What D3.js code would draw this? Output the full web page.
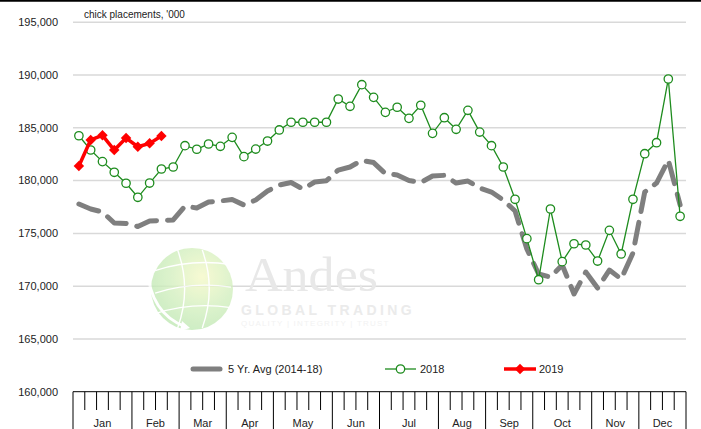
<!DOCTYPE html>
<html>
<head>
<meta charset="utf-8">
<script src="https://cdn.jsdelivr.net/npm/d3@7"></script>
<style>
  html, body { margin: 0; padding: 0; background: #fff; }
  svg { display: block; font-family: "Liberation Sans", Arial, sans-serif; }
</style>
</head>
<body>
<svg id="chart" width="701" height="429"></svg>
<script>
// Weekly chick placements, thousands of birds
const months = ["Jan","Feb","Mar","Apr","May","Jun","Jul","Aug","Sep","Oct","Nov","Dec"];
const weeksPerMonth = [5,4,4,4,5,4,5,4,4,5,4,4];
const yTicks = [160000,165000,170000,175000,180000,185000,190000,195000];

const avg5yr = [
  177780,177310,177030,175980,175940,175650,176170,176220,176270,177590,
  177400,177970,178070,178210,177690,178160,179010,179580,179820,179200,
  179870,179990,181000,181290,181920,181710,180670,180530,180010,179820,
  180440,180500,179770,179960,179300,178920,178160,177120,173520,171150,
  170860,172010,169260,171340,169820,171530,170680,173140,178920,179770,
  181950,177700
];
const y2018 = [
  184250,182900,181800,180790,179750,178420,179770,181100,181290,183310,
  182970,183470,183250,184100,182270,182990,183750,184800,185530,185530,
  185530,185530,187730,187040,189090,187890,186470,186950,185900,187140,
  184480,185960,184860,186660,184600,183310,181290,178230,174500,170610,
  177310,172320,174020,173900,172380,175290,173050,178230,182550,183590,
  189630,176620
];
const y2019 = [181380,183850,184290,182900,184040,183210,183530,184230];

const svg = d3.select("#chart");
const W = 701, H = 429;
const plotL = 73, plotR = 686, plotT = 22.3, plotB = 391.7;

const weeks = d3.range(1, 53);
const x = d3.scaleBand().domain(weeks).range([plotL, plotR]).padding(0);
const cx = w => x(w) + x.bandwidth() / 2;
const y = d3.scaleLinear().domain([160000, 195000]).range([plotB, plotT]);

// frame line along the top edge
svg.append("line").attr("x1", 0).attr("x2", W).attr("y1", 0.75).attr("y2", 0.75)
  .attr("stroke", "#000").attr("stroke-width", 2);

// horizontal gridlines
svg.append("g").selectAll("line").data(yTicks.filter(t => t > 160000)).join("line")
  .attr("x1", plotL).attr("x2", plotR)
  .attr("y1", d => y(d)).attr("y2", d => y(d))
  .attr("stroke", "#d9d9d9").attr("stroke-width", 1.5);

// y axis labels
const fmt = d3.format(",");
svg.append("g").selectAll("text").data(yTicks).join("text")
  .attr("x", 58).attr("y", d => y(d)).attr("dy", "0.35em")
  .attr("text-anchor", "end").attr("font-size", 11).attr("fill", "#222")
  .text(d => fmt(d));

// title
svg.append("text").attr("x", 84).attr("y", 18).attr("font-size", 10).attr("fill", "#222")
  .text("chick placements, '000");

// watermark
const defs = svg.append("defs");
const grad = defs.append("radialGradient").attr("id", "globeGrad")
  .attr("cx", "62%").attr("cy", "35%").attr("r", "70%");
grad.append("stop").attr("offset", "0%").attr("stop-color", "#f6f9c8");
grad.append("stop").attr("offset", "55%").attr("stop-color", "#d4f0c0");
grad.append("stop").attr("offset", "100%").attr("stop-color", "#bfe8b4");
const wm = svg.append("g").attr("opacity", 0.8);
const gx = 192, gy = 289, gr = 41;
wm.append("circle").attr("cx", gx).attr("cy", gy).attr("r", gr).attr("fill", "url(#globeGrad)");
const globeLines = wm.append("g").attr("stroke", "#fff").attr("stroke-width", 1.4).attr("fill", "none");
[-0.45, 0.1, 0.6].forEach(k => {
  globeLines.append("path").attr("d", `M${gx - gr * 0.9},${gy + k * gr} Q${gx},${gy + k * gr - 12} ${gx + gr * 0.95},${gy + k * gr - 6}`);
});
[-0.35, 0.25].forEach(k => {
  globeLines.append("path").attr("d", `M${gx + k * gr},${gy - gr * 0.95} Q${gx + k * gr + 14},${gy} ${gx + k * gr},${gy + gr * 0.95}`);
});
wm.append("path")
  .attr("d", `M${gx - 45},${gy - 22} Q${gx - 42},${gy + 25} ${gx - 6},${gy + 38}`)
  .attr("stroke", "#fff").attr("stroke-width", 3).attr("fill", "none");
wm.append("path")
  .attr("d", `M${gx - 10},${gy + 32} L${gx - 2},${gy + 39} L${gx - 12},${gy + 42} Z`)
  .attr("fill", "#fff");
svg.append("text").attr("x", 245).attr("y", 291).attr("font-family", "Liberation Serif, serif")
  .attr("font-size", 48).attr("textLength", 133).attr("lengthAdjust", "spacingAndGlyphs")
  .attr("fill", "#e8e8e8").text("Andes");
svg.append("text").attr("x", 241).attr("y", 315).attr("font-size", 14).attr("font-weight", "bold")
  .attr("letter-spacing", 3.4).attr("fill", "#ebebeb").text("GLOBAL TRADING");
svg.append("text").attr("x", 241).attr("y", 326).attr("font-size", 8)
  .attr("letter-spacing", 1.2).attr("fill", "#f2f2f2").text("QUALITY | INTEGRITY | TRUST");

// 5 year average, thick dashed gray
const line = d3.line().x((d, i) => cx(weeks[i])).y(d => y(d));
svg.append("path").datum(avg5yr).attr("d", line)
  .attr("fill", "none").attr("stroke", "#7f7f7f").attr("stroke-width", 5)
  .attr("stroke-dasharray", "21,11").attr("stroke-linecap", "round").attr("stroke-linejoin", "round");

// 2018 line with open circle markers
svg.append("path").datum(y2018).attr("d", line)
  .attr("fill", "none").attr("stroke", "#1e8c1e").attr("stroke-width", 1.3);
svg.append("g").selectAll("circle").data(y2018).join("circle")
  .attr("cx", (d, i) => cx(weeks[i])).attr("cy", d => y(d)).attr("r", 4.2)
  .attr("fill", "#fff").attr("stroke", "#1e8c1e").attr("stroke-width", 1.3);

// 2019 line with diamond markers
svg.append("path").datum(y2019).attr("d", line)
  .attr("fill", "none").attr("stroke", "#ff0000").attr("stroke-width", 3.5);
const diamond = d3.symbol().type(d3.symbolDiamond2).size(70);
svg.append("g").selectAll("path").data(y2019).join("path")
  .attr("transform", (d, i) => `translate(${cx(weeks[i])},${y(d)})`)
  .attr("d", diamond).attr("fill", "#ff0000");

// x axis: baseline, week ticks, month dividers and labels
svg.append("line").attr("x1", plotL).attr("x2", plotR).attr("y1", plotB).attr("y2", plotB)
  .attr("stroke", "#000").attr("stroke-width", 1);
const monthStarts = [0];
weeksPerMonth.forEach(n => monthStarts.push(monthStarts[monthStarts.length - 1] + n));
const boundaries = d3.range(0, 53);
const edge = i => i === 52 ? plotR : x(weeks[i]);
svg.append("g").selectAll("line").data(boundaries).join("line")
  .attr("x1", d => edge(d)).attr("x2", d => edge(d))
  .attr("y1", plotB).attr("y2", d => monthStarts.includes(d) ? H : 410)
  .attr("stroke", "#000").attr("stroke-width", 1);
svg.append("g").selectAll("text").data(months).join("text")
  .attr("x", (d, i) => (edge(monthStarts[i]) + edge(monthStarts[i + 1])) / 2)
  .attr("y", 427).attr("text-anchor", "middle").attr("font-size", 11).attr("fill", "#222")
  .text(d => d);

// legend
const lg = svg.append("g").attr("font-size", 11).attr("fill", "#222");
lg.append("line").attr("x1", 193).attr("x2", 220).attr("y1", 369).attr("y2", 369)
  .attr("stroke", "#7f7f7f").attr("stroke-width", 5).attr("stroke-linecap", "round");
lg.append("text").attr("x", 228).attr("y", 369).attr("dy", "0.35em").text("5 Yr. Avg (2014-18)");
lg.append("line").attr("x1", 385).attr("x2", 416).attr("y1", 369).attr("y2", 369)
  .attr("stroke", "#1e8c1e").attr("stroke-width", 1.3);
lg.append("circle").attr("cx", 400.5).attr("cy", 369).attr("r", 4.2)
  .attr("fill", "#fff").attr("stroke", "#1e8c1e").attr("stroke-width", 1.3);
lg.append("text").attr("x", 420).attr("y", 369).attr("dy", "0.35em").text("2018");
lg.append("line").attr("x1", 504).attr("x2", 536).attr("y1", 369).attr("y2", 369)
  .attr("stroke", "#ff0000").attr("stroke-width", 3.5);
lg.append("path").attr("transform", "translate(520,369)").attr("d", diamond).attr("fill", "#ff0000");
lg.append("text").attr("x", 539).attr("y", 369).attr("dy", "0.35em").text("2019");
</script>
</body>
</html>
